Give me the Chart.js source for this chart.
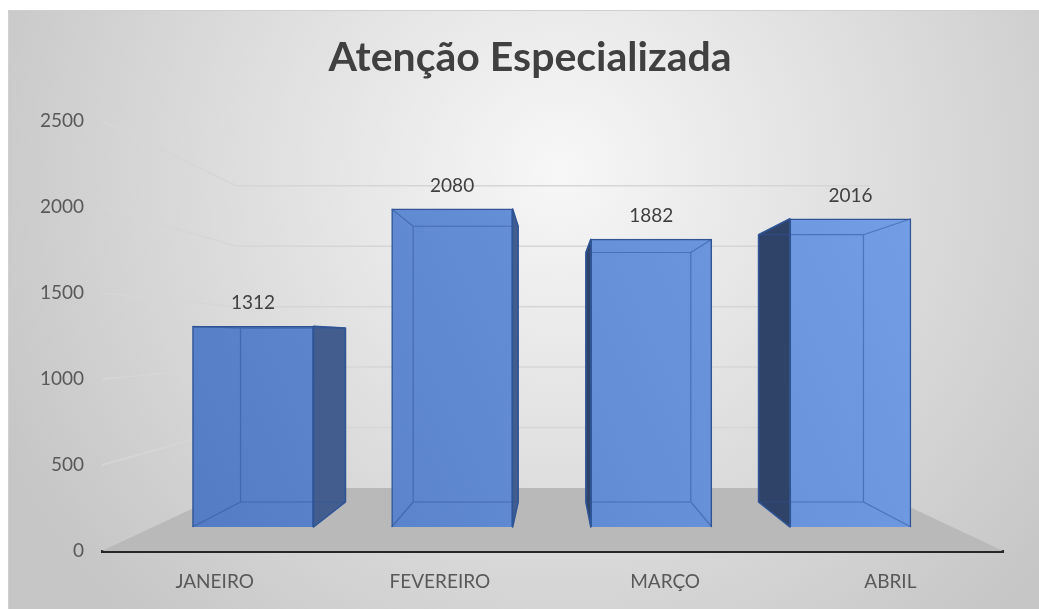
<!DOCTYPE html>
<html><head><meta charset="utf-8">
<script src="https://cdn.jsdelivr.net/npm/chart.js@4/dist/chart.umd.min.js"></script>
<style>html,body{margin:0;padding:0;background:#fff;} #wrap{width:1039px;height:609px;position:relative;}</style>
</head><body><div id="wrap"><canvas id="c"></canvas></div>
<script>
const categories = ['JANEIRO', 'FEVEREIRO', 'MARÇO', 'ABRIL'];
const values = [1312, 2080, 1882, 2016];
const yTickStep = 500;
const yMax = 2500;
const titleText = 'Atenção Especializada';

// perspective (style) constants
const VP = {x: 554, y: 339};
const WALL_DEPTH = 0.703;
const BAR_BACK = 0.867;
const FONT = 'Lato, "Open Sans", sans-serif';

function proj(x, y, s) { return [VP.x + (x - VP.x) * s, VP.y + (y - VP.y) * s]; }

function frontFill(c) {
  const chart = c.chart, a = chart.chartArea;
  if (!a) return '#5b86d0';
  const g = chart.ctx.createLinearGradient(a.left, a.bottom, a.right, a.top);
  g.addColorStop(0, '#4f78c0');
  g.addColorStop(1, '#78a3ea');
  return g;
}

const scene = {
  id: 'scene',
  beforeDraw(chart) {
    const {ctx, width, height} = chart;
    ctx.save();
    ctx.fillStyle = '#fff'; ctx.fillRect(0, 0, width, height);
    const g = ctx.createRadialGradient(560, 170, 0, 560, 170, 620);
    g.addColorStop(0, '#f7f7f7'); g.addColorStop(1, '#c6c6c6');
    ctx.fillStyle = g; ctx.fillRect(8, 10, width - 8, height - 10);
    ctx.strokeStyle = '#d0d0d0'; ctx.lineWidth = 1;
    ctx.beginPath(); ctx.moveTo(8, 10.5); ctx.lineTo(width, 10.5);
    ctx.moveTo(8.5, 10); ctx.lineTo(8.5, height); ctx.stroke();
    ctx.fillStyle = '#404040';
    ctx.font = 'bold 41px ' + FONT;
    ctx.textAlign = 'center'; ctx.textBaseline = 'alphabetic';
    ctx.fillText(titleText, 530, 71);
    ctx.restore();
  },
  beforeDatasetsDraw(chart) {
    const {ctx, chartArea: a, scales} = chart;
    const y = scales.y;
    ctx.save();
    const fl = proj(a.left, a.bottom, WALL_DEPTH), fr = proj(a.right, a.bottom, WALL_DEPTH);
    ctx.fillStyle = '#b9b9b9';
    ctx.beginPath(); ctx.moveTo(a.left, a.bottom); ctx.lineTo(fl[0], fl[1]);
    ctx.lineTo(fr[0], fr[1]); ctx.lineTo(a.right, a.bottom); ctx.closePath(); ctx.fill();
    ctx.strokeStyle = '#d6d6d6'; ctx.lineWidth = 1.5;
    y.ticks.forEach(t => {
      if (t.value <= 0) return;
      const py = y.getPixelForValue(t.value);
      const b = proj(a.left, py, WALL_DEPTH);
      ctx.beginPath(); ctx.moveTo(a.left, py); ctx.lineTo(b[0], b[1]); ctx.lineTo(fr[0], b[1]); ctx.stroke();
    });
    ctx.restore();
  },
  afterDatasetsDraw(chart) {
    const {ctx} = chart;
    const meta = chart.getDatasetMeta(0);
    ctx.save();
    ctx.lineJoin = 'round';
    meta.data.forEach((el, i) => {
      const p = el.getProps(['x', 'y', 'base', 'width'], true);
      const L = p.x - p.width / 2, R = p.x + p.width / 2, T = p.y, B = p.base;
      const bTL = proj(L, T, BAR_BACK), bTR = proj(R, T, BAR_BACK);
      const bBL = proj(L, B, BAR_BACK), bBR = proj(R, B, BAR_BACK);
      ctx.beginPath();
      if (p.x < VP.x) {
        ctx.moveTo(R, T); ctx.lineTo(bTR[0], bTR[1]); ctx.lineTo(bBR[0], bBR[1]); ctx.lineTo(R, B);
        ctx.fillStyle = '#435e8e';
      } else {
        ctx.moveTo(L, T); ctx.lineTo(bTL[0], bTL[1]); ctx.lineTo(bBL[0], bBL[1]); ctx.lineTo(L, B);
        ctx.fillStyle = '#2f4268';
      }
      ctx.closePath(); ctx.fill();
      ctx.strokeStyle = '#2f5597'; ctx.lineWidth = 1.5; ctx.stroke();
      ctx.strokeStyle = 'rgba(47,85,151,0.55)'; ctx.lineWidth = 1.2;
      ctx.beginPath();
      ctx.moveTo(bTL[0], bTL[1]); ctx.lineTo(bTR[0], bTR[1]); ctx.lineTo(bBR[0], bBR[1]);
      ctx.lineTo(bBL[0], bBL[1]); ctx.closePath();
      ctx.moveTo(L, T); ctx.lineTo(bTL[0], bTL[1]);
      ctx.moveTo(R, T); ctx.lineTo(bTR[0], bTR[1]);
      ctx.moveTo(L, B); ctx.lineTo(bBL[0], bBL[1]);
      ctx.moveTo(R, B); ctx.lineTo(bBR[0], bBR[1]);
      ctx.stroke();
      ctx.fillStyle = '#404040';
      ctx.font = '19px ' + FONT;
      ctx.textAlign = 'center'; ctx.textBaseline = 'middle';
      ctx.fillText(String(values[i]), p.x, T - 23);
    });
    ctx.restore();
  }
};

new Chart(document.getElementById('c'), {
  type: 'bar',
  data: {
    labels: categories,
    datasets: [{
      data: values.map((v, i) => ({x: i, y: v})),
      xAxisID: 'xb', yAxisID: 'yb',
      backgroundColor: frontFill,
      borderColor: '#2f5597', borderWidth: 1.5,
      barThickness: 121
    }]
  },
  options: {
    responsive: true, maintainAspectRatio: false, animation: false,
    layout: {padding: {left: 0, right: 36, top: 121, bottom: 0}},
    plugins: {legend: {display: false}, tooltip: {enabled: false}, title: {display: false}},
    scales: {
      x: {type: 'category', position: 'bottom', offset: true,
        grid: {display: false}, border: {display: true, color: '#262626', width: 3},
        ticks: {color: '#595959', font: {family: FONT, size: 19}, padding: 11},
        afterFit(s) { s.height = 58; }},
      y: {type: 'linear', position: 'left', min: 0, max: yMax,
        ticks: {stepSize: yTickStep, color: '#595959', font: {family: FONT, size: 19}, padding: 10,
          callback: v => String(v)},
        grid: {display: false}, border: {display: false},
        afterFit(s) { s.width = 102; }},
      xb: {type: 'linear', display: false, offset: false, min: -0.758, max: 3.766},
      yb: {type: 'linear', display: false, min: -157, max: 2655}
    }
  },
  plugins: [scene]
});
</script>
</body></html>
